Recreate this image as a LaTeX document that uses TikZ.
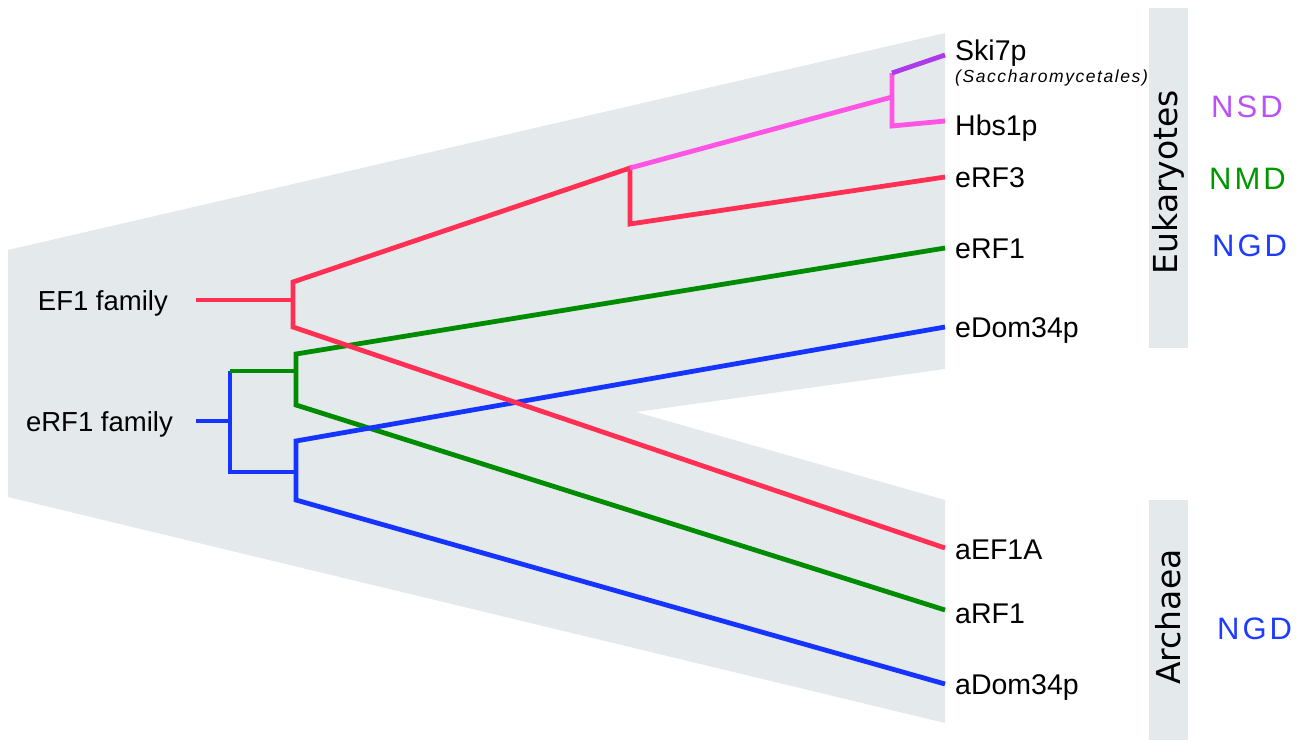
\documentclass[tikz,border=0pt]{standalone}
\usepackage{fontspec}
\setmainfont{Liberation Sans}
\newfontfamily\rotfont{DejaVu Sans}
\newfontfamily\subfont[LetterSpace=9]{Liberation Sans}
\usetikzlibrary{positioning}
\definecolor{Fondo}{RGB}{228,233,236}
\definecolor{Rojo}{RGB}{255,48,84}
\definecolor{Rosa}{RGB}{255,84,228}
\definecolor{Morado}{RGB}{172,58,232}
\definecolor{Verde}{RGB}{0,140,0}
\definecolor{Azul}{RGB}{22,52,255}
\definecolor{NSDcolor}{RGB}{186,80,245}
\definecolor{NMDcolor}{RGB}{0,150,0}
\definecolor{NGDcolor}{RGB}{30,60,255}
\newcommand\cod[3]{#1\kern3pt#2\kern3pt#3}

\begin{document}
\begin{tikzpicture}[
  x=1pt, y=-1pt,
  rama/.style={line width=4.8pt, line join=miter},
  rojo/.style={rama, draw=Rojo},
  rosa/.style={rama, draw=Rosa},
  morado/.style={rama, draw=Morado},
  verde/.style={rama, draw=Verde},
  azul/.style={rama, draw=Azul},
  hoja/.style={font=\fontsize{28.5}{32}\selectfont, inner sep=0pt,
    text height=20pt, text depth=0pt},
  fam/.style={font=\fontsize{27.5}{32}\selectfont, inner sep=0pt,
    text height=20pt, text depth=0pt},
  subt/.style={font=\subfont\itshape\fontsize{17.5}{20}\selectfont,
    inner sep=0pt, text height=12pt, text depth=0pt, anchor=west},
  grupo/.style={font=\rotfont\fontsize{33}{38}\selectfont, rotate=90,
    inner sep=0pt},
  codigo/.style={font=\fontsize{31}{36}\selectfont, inner sep=0pt,
    text height=22pt, text depth=0pt, anchor=west}
]
\useasboundingbox (0,0) rectangle (1302,740);

%% fondo
\fill[Fondo] (8,250) -- (945,33) -- (945,369) -- (636,412)
  -- (945,500) -- (945,723) -- (8,497) -- cycle;
\fill[Fondo] (1149,8) rectangle (1188,348);
\fill[Fondo] (1149,500) rectangle (1188,740);

%% puntas de las hojas
\coordinate (tSki)  at (945,55);
\coordinate (tHbs)  at (945,121);
\coordinate (tRF3)  at (945,177);
\coordinate (tRF1)  at (945,248);
\coordinate (teDom) at (945,327);
\coordinate (taEF)  at (945,548);
\coordinate (taRF)  at (945,610);
\coordinate (taDom) at (945,684);

%% nodos internos
\coordinate (sEF) at (196,300);
\coordinate (a1)  at (293,282);
\coordinate (a2)  at (293,327);
\coordinate (b1)  at (630,168);
\coordinate (b2)  at (630,224);
\coordinate (c0)  at (892,97);
\coordinate (c1)  at (892,73);
\coordinate (c2)  at (892,126);
\coordinate (sRF) at (196,421);
\coordinate (d1)  at (230,371);
\coordinate (d2)  at (230,472);
\coordinate (g1)  at (296,354);
\coordinate (g2)  at (296,405);
\coordinate (h1)  at (296,441);
\coordinate (h2)  at (296,500);

%% eRF1 family
\draw[azul] (sRF) -- (sRF -| d1);
\draw[azul] (d1) -- (d2) -- (d2 -| h1);
\draw[verde] (d1) -- (d1 -| g1);
\draw[verde] (taRF) -- (g2) -- (g1) -- (tRF1);
\draw[azul] (taDom) -- (h2) -- (h1) -- (teDom);

%% EF1 family
\draw[rojo] (sEF) -- (sEF -| a1);
\draw[rojo] (taEF) -- (a2) -- (a1) -- (b1) -- (b2) -- (tRF3);
\draw[rosa] (b1) -- (c0);
\draw[rosa] (tHbs) -- (c2) -- (c1);
\draw[morado] (c1) -- (tSki);

%% etiquetas
\node[hoja, right=10pt of tSki, yshift=5pt] (Ski7p) {Ski7p};
\node[subt] (Sacc) at ([yshift=-26pt]Ski7p.west) {(Saccharomycetales)};
\node[hoja, right=10pt of tHbs, yshift=-4pt] (Hbs1p) {Hbs1p};
\node[hoja, right=10pt of tRF3] (eRF3) {eRF3};
\node[hoja, right=10pt of tRF1] (eRF1) {eRF1};
\node[hoja, right=10pt of teDom] (eDom34p) {eDom34p};
\node[hoja, right=10pt of taEF, yshift=-1pt] (aEF1A) {aEF1A};
\node[hoja, right=10pt of taRF, yshift=-3pt] (aRF1) {aRF1};
\node[hoja, right=10pt of taDom] (aDom34p) {aDom34p};

\node[fam, left=28pt of sEF] (EF1fam) {EF1 family};
\node[fam, left=23pt of sRF] (eRF1fam) {eRF1 family};

\node[grupo] (Euk) at (1168,182) {Eukaryotes};
\node[grupo] (Arc) at (1168,617) {Archaea};

\node[codigo, text=NSDcolor] (NSD) at (1211,106) {\cod NSD};
\node[codigo, text=NMDcolor] (NMD) at (1209,178) {\cod NMD};
\node[codigo, text=NGDcolor] (NGD) at (1212,245) {\cod NGD};
\node[codigo, text=NGDcolor] (NGDa) at (1217,628) {\cod NGD};

\end{tikzpicture}
\end{document}
